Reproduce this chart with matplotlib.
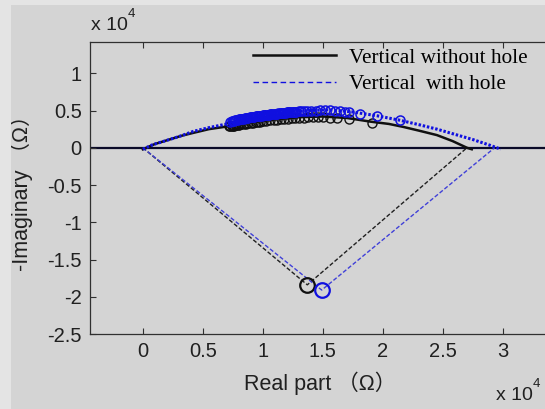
# =====================================================
# IMPEDANCE PLOT - VERTICAL WITH / WITHOUT HOLE
# =====================================================

import matplotlib
matplotlib.use("Agg")
import matplotlib.pyplot as plt
from matplotlib.patches import Rectangle
from matplotlib.ticker import FormatStrFormatter, MultipleLocator

plt.rcParams["axes.unicode_minus"] = False

# =====================================================
# DATA (real / imaginary in units of 1e4 ohm)
# =====================================================

# arc lines
black_arc_x = [0.00, 0.10, 0.20, 0.32, 0.42, 0.55, 0.72, 0.90, 1.10, 1.30, 1.50,
               1.70, 1.90, 2.05, 2.17, 2.30, 2.45, 2.58, 2.70, 2.74]
black_arc_y = [-0.02, 0.05, 0.10, 0.16, 0.20, 0.25, 0.29, 0.34, 0.38, 0.41, 0.42,
               0.40, 0.35, 0.32, 0.28, 0.23, 0.17, 0.09, 0.00, -0.02]

blue_arc_x = [0.00, 0.08, 0.17, 0.30, 0.42, 0.55, 0.70, 0.85, 1.00, 1.25, 1.55,
              1.75, 1.95, 2.14, 2.30, 2.45, 2.60, 2.75, 2.88, 2.95, 2.98]
blue_arc_y = [-0.02, 0.04, 0.085, 0.15, 0.22, 0.27, 0.32, 0.38, 0.43, 0.49, 0.51,
              0.48, 0.43, 0.37, 0.31, 0.25, 0.18, 0.11, 0.04, 0.00, -0.02]

# measured points on the arcs
black_pts_x = [0.72, 0.73, 0.74, 0.75, 0.76, 0.77, 0.78, 0.79, 0.80, 0.82,
               0.84, 0.86, 0.88, 0.90, 0.92, 0.94, 0.96, 0.98, 1.00, 1.03,
               1.06, 1.09, 1.12, 1.15, 1.18, 1.21, 1.24, 1.27, 1.30, 1.34,
               1.38, 1.42, 1.46, 1.50, 1.56, 1.62, 1.72, 1.91]
black_pts_y = [0.290, 0.292, 0.294, 0.296, 0.298, 0.300, 0.302, 0.305, 0.308, 0.313,
               0.318, 0.323, 0.328, 0.333, 0.338, 0.343, 0.348, 0.352, 0.356, 0.362,
               0.368, 0.373, 0.378, 0.383, 0.388, 0.392, 0.396, 0.399, 0.402, 0.405,
               0.407, 0.408, 0.409, 0.410, 0.405, 0.400, 0.380, 0.330]

blue_pts_x = [0.73, 0.74, 0.75, 0.76, 0.77, 0.78, 0.79, 0.80, 0.81, 0.82,
              0.83, 0.84, 0.85, 0.86, 0.87, 0.88, 0.89, 0.90, 0.91, 0.92,
              0.93, 0.94, 0.95, 0.96, 0.97, 0.98, 0.99, 1.00, 1.01, 1.02,
              1.03, 1.04, 1.05, 1.06, 1.07, 1.08, 1.09, 1.10, 1.11, 1.12,
              1.13, 1.14, 1.15, 1.16, 1.17, 1.18, 1.19, 1.20, 1.21, 1.22,
              1.23, 1.24, 1.25, 1.26, 1.27, 1.28, 1.30, 1.32, 1.34, 1.37,
              1.40, 1.44, 1.48, 1.52, 1.56, 1.60, 1.64, 1.68, 1.72, 1.81,
              1.95, 2.14]
blue_pts_y = [0.350, 0.355, 0.360, 0.364, 0.368, 0.372, 0.376, 0.380, 0.383, 0.386,
              0.389, 0.392, 0.395, 0.398, 0.401, 0.404, 0.407, 0.410, 0.412, 0.415,
              0.417, 0.420, 0.422, 0.425, 0.427, 0.430, 0.432, 0.435, 0.437, 0.440,
              0.442, 0.444, 0.446, 0.448, 0.450, 0.452, 0.454, 0.456, 0.458, 0.460,
              0.462, 0.464, 0.466, 0.468, 0.470, 0.471, 0.473, 0.474, 0.476, 0.477,
              0.478, 0.480, 0.481, 0.482, 0.484, 0.485, 0.487, 0.489, 0.492, 0.495,
              0.498, 0.500, 0.502, 0.503, 0.502, 0.498, 0.492, 0.485, 0.477, 0.455,
              0.430, 0.375]

# triangle (dashed) lines and their vertices
black_v_x = [0.00, 1.37, 2.70]
black_v_y = [0.00, -1.84, 0.00]
blue_v_x = [0.00, 1.49, 2.93]
blue_v_y = [0.00, -1.91, 0.00]

x_ticks = [0, 0.5, 1, 1.5, 2, 2.5, 3]
legend_labels = ["Vertical without hole", "Vertical  with hole"]

# =====================================================
# FIGURE
# =====================================================

W, H = 545, 409
bg = "#d4d4d4"
strip = "#e4e4e4"

fig = plt.figure(figsize=(W / 100, H / 100), dpi=100, facecolor=bg)
fig.patches.append(Rectangle((0, 0), 11 / W, 1, transform=fig.transFigure,
                             facecolor=strip, edgecolor="none"))
fig.patches.append(Rectangle((0, 1 - 5 / H), 1, 5 / H, transform=fig.transFigure,
                             facecolor=strip, edgecolor="none"))

ax = fig.add_axes([90 / W, (H - 334) / H, 473 / W, 292 / H])
ax.set_facecolor(bg)

ax.axhline(0, color="#0a0a28", linewidth=1.6, zorder=1)

# dashed triangles
ax.plot(black_v_x, black_v_y, "--", color="#202020", linewidth=1.0, dashes=(3, 1.5))
ax.plot(blue_v_x, blue_v_y, "--", color="#4040d8", linewidth=1.0, dashes=(3, 1.5))
ax.plot(black_v_x[1], black_v_y[1], "o", mfc="none", mec="#101010", ms=10.5, mew=1.6)
ax.plot(blue_v_x[1], blue_v_y[1], "o", mfc="none", mec="#1010e0", ms=10.5, mew=1.6)

# arcs
line_black, = ax.plot(black_arc_x, black_arc_y, "-", color="#101010", linewidth=1.8)
ax.plot(black_pts_x, black_pts_y, "o", mfc="none", mec="#101010", ms=6.5, mew=1.0)
ax.plot(blue_arc_x, blue_arc_y, color="#1010e0", linewidth=2.2, dashes=(0.8, 0.6))
ax.plot(blue_pts_x, blue_pts_y, "o", mfc="none", mec="#1010e0", ms=6.5, mew=1.1)

legend_blue, = ax.plot([], [], "--", color="#1010e0", linewidth=1.0, dashes=(4, 2.5))

# =====================================================
# AXES
# =====================================================

ax.set_xlim(-0.44, 3.5)
ax.set_ylim(-2.5, 1.42)
ax.set_xticks(x_ticks)
ax.yaxis.set_major_locator(MultipleLocator(0.5))
ax.xaxis.set_major_formatter(FormatStrFormatter("%g"))
ax.yaxis.set_major_formatter(FormatStrFormatter("%g"))

ax.tick_params(direction="in", length=4, width=0.8, color="#303030",
               top=True, right=True, labelsize=14.5, pad=6)
for lab in ax.get_xticklabels() + ax.get_yticklabels():
    lab.set_family("Liberation Sans")
    lab.set_color("#202020")
for sp in ax.spines.values():
    sp.set_color("#303030")
    sp.set_linewidth(0.9)

lab_font = ["Liberation Sans", "Noto Sans CJK SC"]
ax.set_xlabel("Real part （Ω）", family=lab_font, fontsize=15.5, color="#202020")
ax.xaxis.set_label_coords((320 - 90) / 473, -(372 - 334) / 292)
ax.set_ylabel("-Imaginary （Ω）", family=lab_font, fontsize=15.5, color="#202020")
ax.yaxis.set_label_coords(-(90 - 33) / 473, 0.5)

# scale factors
fig.text(91 / W, 1 - 26 / H, "x 10", family="Liberation Sans", fontsize=14,
         va="center", color="#202020")
fig.text(128 / W, 1 - 14 / H, "4", family="Liberation Sans", fontsize=9.5,
         va="center", color="#202020")
fig.text(496 / W, 1 - 396 / H, "x 10", family="Liberation Sans", fontsize=14,
         va="center", color="#202020")
fig.text(533 / W, 1 - 384 / H, "4", family="Liberation Sans", fontsize=9.5,
         va="center", color="#202020")

# =====================================================
# LEGEND
# =====================================================

ax.legend([line_black, legend_blue], legend_labels, loc="upper left",
          bbox_to_anchor=(253 / W, 1 - 48 / H), bbox_transform=fig.transFigure,
          frameon=False, borderpad=0, borderaxespad=0, handlelength=3.9,
          handletextpad=0.6, labelspacing=0.3,
          prop={"family": "Liberation Serif", "size": 15.3})

plt.savefig("out.png", dpi=100, facecolor=fig.get_facecolor())
